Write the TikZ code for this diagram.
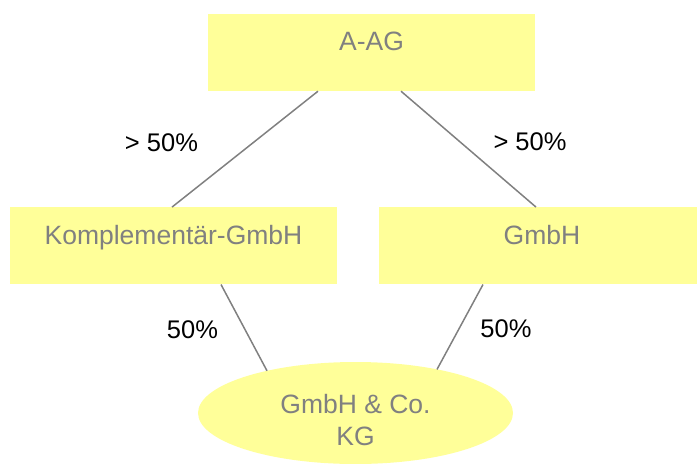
\documentclass[tikz,border=0pt]{standalone}
\usepackage{fontspec}
\setmainfont{Liberation Sans}
\usetikzlibrary{shapes.geometric}
\definecolor{boxfill}{RGB}{255,255,153}
\definecolor{txtgray}{RGB}{128,128,128}
\definecolor{linegray}{RGB}{128,128,128}
\tikzset{
  box/.style={draw=none, fill=boxfill, rectangle, inner sep=0pt},
  oval/.style={draw=none, fill=boxfill, ellipse, inner sep=0pt},
  boxtext/.style={text=txtgray, font=\fontsize{26.5}{31.7}\selectfont, inner sep=0pt, anchor=base},
  pct/.style={text=black, font=\fontsize{25.5}{30}\selectfont, inner sep=0pt, anchor=base},
  conn/.style={draw=linegray, line width=1.5pt}
}
\begin{document}
\begin{tikzpicture}[x=1pt,y=-1pt]
\useasboundingbox (0,0) rectangle (698,463);
\clip (0,0) rectangle (698,463);
% boxes
\node[box, minimum width=327pt, minimum height=77pt] (aag) at (371.5,52.5) {};
\node[box, minimum width=327pt, minimum height=77pt] (kompl) at (173.5,245.8) {};
\node[box, minimum width=318pt, minimum height=77pt] (gmbh) at (538,245.8) {};
\node[oval, minimum width=315pt, minimum height=102pt] (kg) at (355.5,413) {};
% box texts
\node[boxtext] (taag) at (371.5,50) {A-AG};
\node[boxtext] (tkompl) at (173.5,244.3) {Komplementär-GmbH};
\node[boxtext] (tgmbh) at (542,244.3) {GmbH};
\node[boxtext] (tkg1) at (355.5,413.3) {GmbH \& Co.};
\node[boxtext] (tkg2) at (355.5,445) {KG};
% connectors
\draw[conn] ([xshift=-53.5pt]aag.south) -- ([xshift=-1.5pt]kompl.north);
\draw[conn] ([xshift=29.5pt]aag.south) -- ([xshift=-2pt]gmbh.north);
\draw[conn] ([xshift=47.5pt]kompl.south) -- ([shift={(-88.5pt,42.2pt)}]kg.center);
\draw[conn] ([xshift=-55pt]gmbh.south) -- ([shift={(81.5pt,43.6pt)}]kg.center);
% percentages
\node[pct] (p1) at (161.5,151) {> 50\%};
\node[pct] (p2) at (530,150) {> 50\%};
\node[pct] (p3) at (192.5,338) {50\%};
\node[pct] (p4) at (506,337) {50\%};
\end{tikzpicture}
\end{document}
